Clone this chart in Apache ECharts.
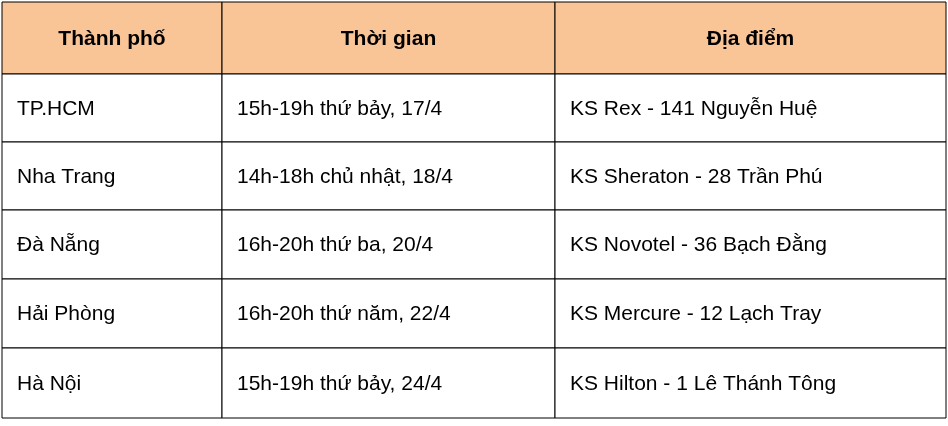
<!DOCTYPE html>
<html><head><meta charset="utf-8">
<script src="https://cdn.jsdelivr.net/npm/echarts@6/dist/echarts.min.js"></script>
<style>html,body{margin:0;background:#fff}#main{width:948px;height:426px}</style>
</head><body><div id="main"></div>
<script>
var headers = ['Thành phố', 'Thời gian', 'Địa điểm'];
var cities = ['TP.HCM', 'Nha Trang', 'Đà Nẵng', 'Hải Phòng', 'Hà Nội'];
var times = ['15h-19h thứ bảy, 17/4', '14h-18h chủ nhật, 18/4', '16h-20h thứ ba, 20/4', '16h-20h thứ năm, 22/4', '15h-19h thứ bảy, 24/4'];
var places = ['KS Rex - 141 Nguyễn Huệ', 'KS Sheraton - 28 Trần Phú', 'KS Novotel - 36 Bạch Đằng', 'KS Mercure - 12 Lạch Tray', 'KS Hilton - 1 Lê Thánh Tông'];

// layout (pixels inside the grid)
var colEdges = [0, 220, 553, 944];
var rowEdges = [0, 72, 140, 208, 277, 346, 416];

var cells = [];
headers.forEach(function (h, c) { cells.push([c, 0, h]); });
for (var i = 0; i < cities.length; i++) {
    cells.push([0, i + 1, cities[i]]);
    cells.push([1, i + 1, times[i]]);
    cells.push([2, i + 1, places[i]]);
}

var myChart = echarts.init(document.getElementById('main'));
myChart.setOption({
    animation: false,
    grid: { left: 2, top: 2, width: 944, height: 416 },
    xAxis: { type: 'value', min: 0, max: 944, show: false },
    yAxis: { type: 'value', min: 0, max: 416, inverse: true, show: false },
    series: [{
        type: 'custom',
        data: cells,
        renderItem: function (params, api) {
            var c = api.value(0), r = api.value(1);
            var p0 = api.coord([colEdges[c], rowEdges[r]]);
            var p1 = api.coord([colEdges[c + 1], rowEdges[r + 1]]);
            var head = r === 0;
            var txt = cells[params.dataIndex][2];
            return {
                type: 'group',
                children: [{
                    type: 'rect',
                    shape: { x: p0[0], y: p0[1], width: p1[0] - p0[0], height: p1[1] - p0[1] },
                    style: { fill: head ? '#F9C597' : '#fff', stroke: '#000', lineWidth: 1 }
                }, {
                    type: 'text',
                    x: head ? (p0[0] + p1[0]) / 2 : p0[0] + 15,
                    y: (p0[1] + p1[1]) / 2 + 1,
                    style: {
                        text: txt,
                        fill: '#000',
                        font: (head ? 'bold 21px' : '21px') + ' "Liberation Sans"',
                        align: head ? 'center' : 'left',
                        verticalAlign: 'middle'
                    }
                }]
            };
        }
    }]
});
</script></body></html>
